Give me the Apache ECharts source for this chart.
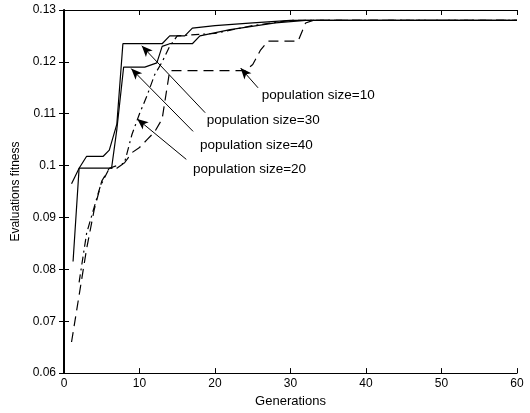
<!DOCTYPE html>
<html>
<head>
<meta charset="utf-8">
<script src="https://cdn.jsdelivr.net/npm/echarts@6/dist/echarts.min.js"></script>
<style>
  html, body { margin: 0; padding: 0; background: #fff; }
  #chart { width: 530px; height: 413px; }
</style>
</head>
<body>
<div id="chart"></div>
<script>
// generations / fitness
const pop10Gen = [1, 2, 3, 4, 5, 6, 8, 9, 10, 11, 12, 13, 14, 24, 25, 26, 27, 31, 32, 33, 60];
const pop10Fit = [0.066, 0.075, 0.084, 0.0915, 0.097, 0.0995, 0.1005, 0.1025, 0.1035, 0.105, 0.1065, 0.109, 0.1183, 0.1183, 0.1195, 0.1222, 0.124, 0.124, 0.1275, 0.128, 0.128];

const pop20Gen = [2, 3, 4, 4.8, 6, 7, 8, 9, 10, 11, 12, 13, 14, 15, 20, 25, 30, 60];
const pop20Fit = [0.0775, 0.087, 0.092, 0.096, 0.0995, 0.0995, 0.1005, 0.106, 0.11, 0.1135, 0.1175, 0.12, 0.123, 0.125, 0.1255, 0.127, 0.128, 0.128];

const pop30Gen = [1, 2, 3, 5.2, 6, 7, 7.8, 11.5, 13, 14, 16, 17, 20, 25, 30, 60];
const pop30Fit = [0.0965, 0.0995, 0.1018, 0.1018, 0.103, 0.108, 0.1235, 0.1235, 0.1235, 0.125, 0.125, 0.1265, 0.127, 0.1275, 0.128, 0.128];

const pop40Gen = [1.2, 2, 5, 6.3, 7, 7.9, 10.7, 12.3, 13, 14, 17, 18, 22, 28, 32, 60];
const pop40Fit = [0.0815, 0.0995, 0.0995, 0.0995, 0.107, 0.119, 0.119, 0.1198, 0.123, 0.1235, 0.1235, 0.125, 0.1262, 0.1275, 0.128, 0.128];

const xTicks = [0, 10, 20, 30, 40, 50, 60];
const yTicks = [0.06, 0.07, 0.08, 0.09, 0.1, 0.11, 0.12, 0.13];

// annotation text, where it sits, and where its arrow points (data coords)
const noteText = ['population size=10', 'population size=30', 'population size=40', 'population size=20'];
const noteAt = [[26.2, 0.1136], [18.9, 0.1088], [18.0, 0.1040], [17.1, 0.0992]];
const arrowFrom = [[25.7, 0.1150], [18.7, 0.1102], [17.1, 0.1066], [16.2, 0.1012]];
const arrowTo = [[23.4, 0.1188], [10.3, 0.1231], [8.9, 0.1187], [9.7, 0.1090]];

const font = 'Liberation Sans, Arial, sans-serif';

function pairs(xs, ys) {
    return xs.map((x, i) => [x, ys[i]]);
}

function fmtY(v) {
    return String(parseFloat(v.toFixed(2)));
}

function arrowFor(i) {
    return {
        silent: true,
        symbol: ['none', 'arrow'],
        symbolSize: [7, 11],
        lineStyle: { color: '#000', width: 1, type: 'solid' },
        label: { show: false },
        data: [[{ coord: arrowFrom[i] }, { coord: arrowTo[i] }]]
    };
}

function line(name, xs, ys, dash, idx) {
    return {
        name: name,
        type: 'line',
        data: pairs(xs, ys),
        symbol: 'none',
        animation: false,
        lineStyle: { color: '#000', width: 1.2, type: dash },
        markLine: arrowFor(idx)
    };
}

const chart = echarts.init(document.getElementById('chart'));

const axisLine = { show: true, lineStyle: { color: '#000', width: 1 } };
const tick = { show: true, inside: true, length: 5, lineStyle: { color: '#000' } };

let option = {
    backgroundColor: '#fff',
    animation: false,
    grid: { left: 64, right: 13, top: 10, bottom: 38 },
    xAxis: [{
        type: 'value', min: xTicks[0], max: xTicks[xTicks.length - 1], interval: 10,
        axisLine: axisLine, axisTick: tick, splitLine: { show: false },
        axisLabel: { color: '#000', fontFamily: font, fontSize: 12, margin: 5 },
        name: 'Generations', nameLocation: 'middle', nameGap: 20,
        nameTextStyle: { color: '#000', fontFamily: font, fontSize: 13 }
    }, {
        type: 'value', position: 'top', min: xTicks[0], max: xTicks[xTicks.length - 1], interval: 10,
        axisLine: axisLine, axisTick: tick, axisLabel: { show: false }, splitLine: { show: false }
    }],
    yAxis: [{
        type: 'value', min: yTicks[0], max: yTicks[yTicks.length - 1], interval: 0.01,
        axisLine: { show: true, lineStyle: { color: '#000', width: 2 } }, axisTick: tick,
        splitLine: { show: false },
        axisLabel: { color: '#000', fontFamily: font, fontSize: 12, margin: 8, formatter: fmtY },
        name: 'Evaluations fitness', nameLocation: 'middle', nameGap: 35,
        nameTextStyle: { color: '#000', fontFamily: font, fontSize: 12 }
    }, {
        type: 'value', position: 'right', min: yTicks[0], max: yTicks[yTicks.length - 1], interval: 0.01,
        axisLine: axisLine, axisTick: tick, axisLabel: { show: false }, splitLine: { show: false }
    }],
    series: [
        line('population size=10', pop10Gen, pop10Fit, [10, 6], 0),
        line('population size=30', pop30Gen, pop30Fit, 'solid', 1),
        line('population size=40', pop40Gen, pop40Fit, 'solid', 2),
        line('population size=20', pop20Gen, pop20Fit, [8, 4, 2, 4], 3)
    ]
};
chart.setOption(option);

// put annotation text in after layout so it follows the axes
chart.setOption({
    graphic: noteText.map((t, i) => {
        const p = chart.convertToPixel({ gridIndex: 0 }, noteAt[i]);
        return {
            type: 'text', x: p[0], y: p[1], silent: true,
            style: { text: t, fill: '#000', font: '13.5px ' + font, textVerticalAlign: 'middle' }
        };
    })
});
</script>
</body>
</html>
